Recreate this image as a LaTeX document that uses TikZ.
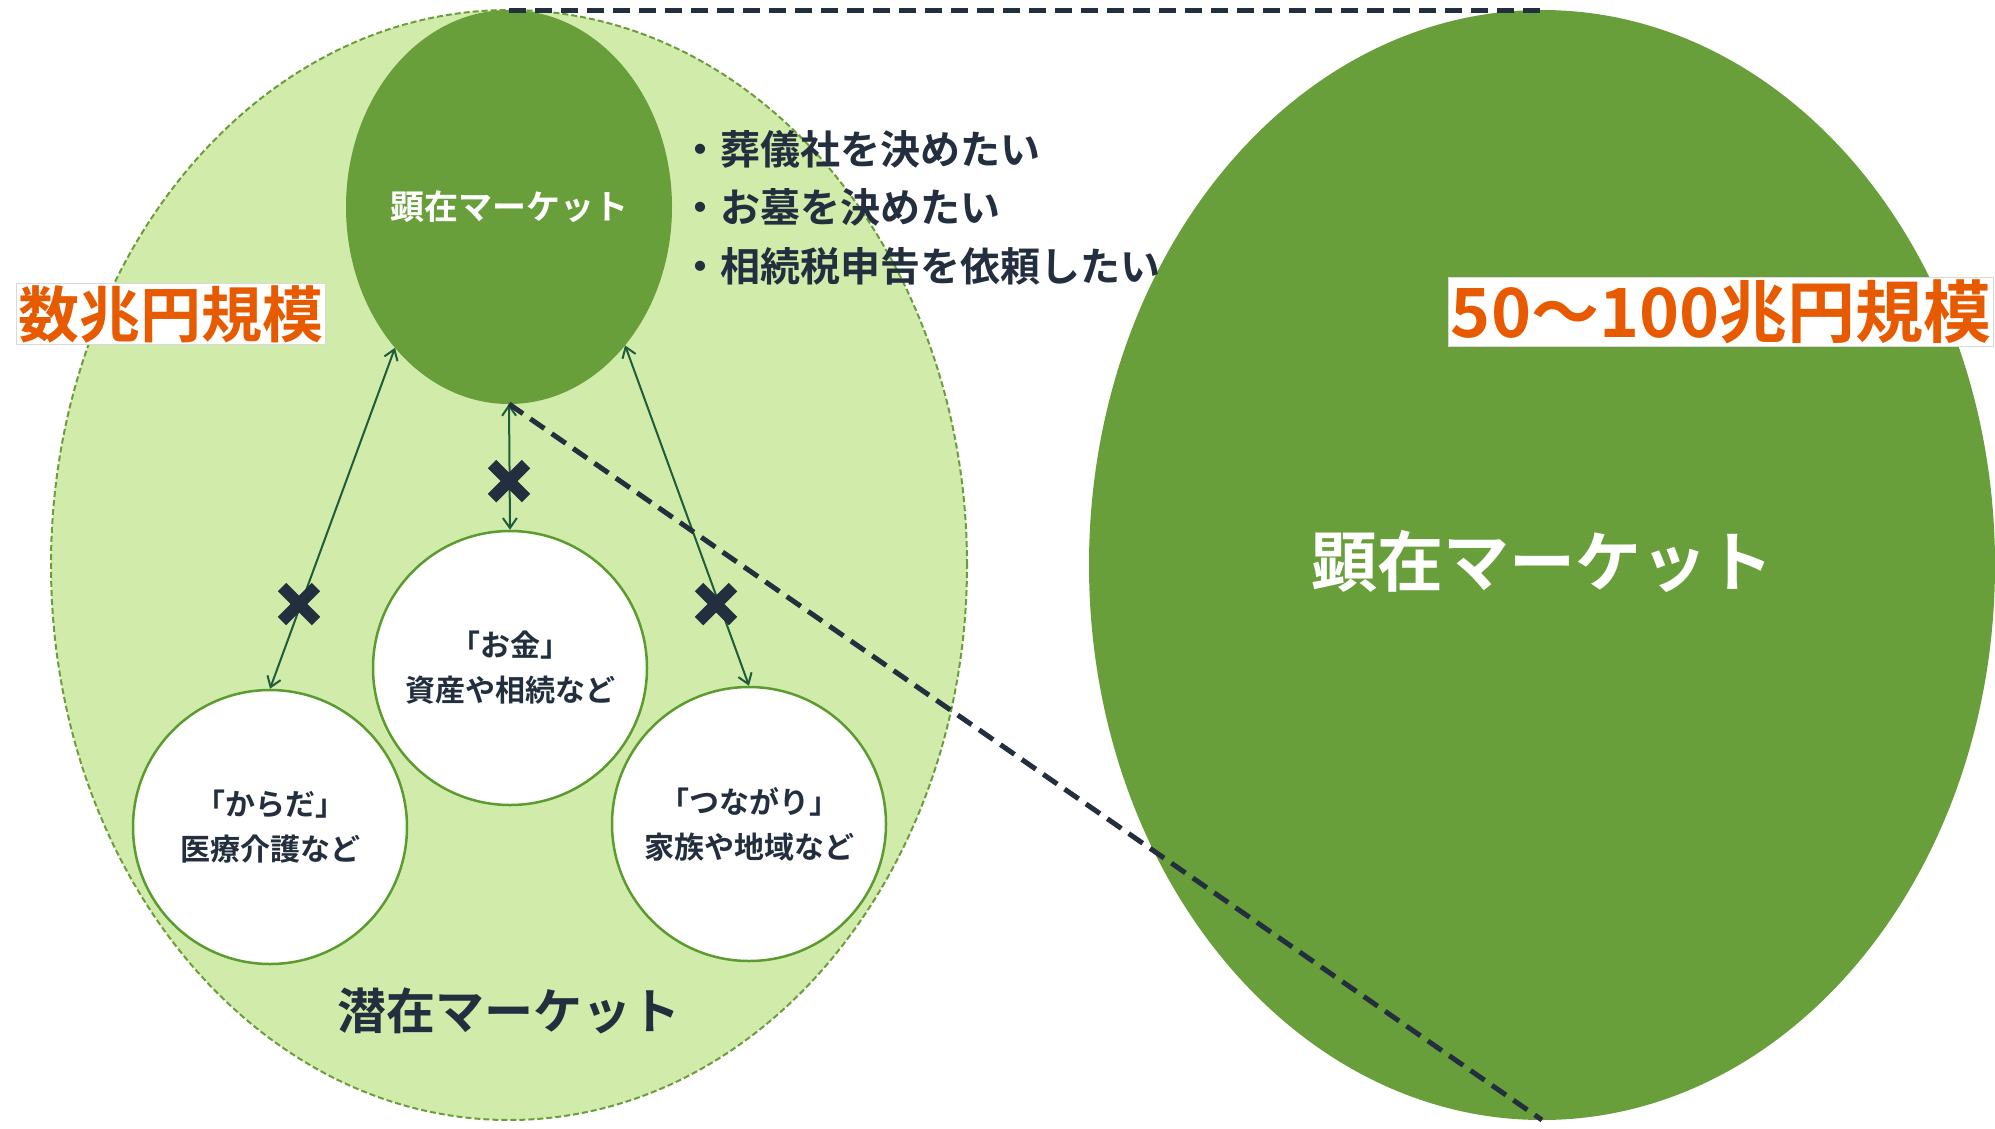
\documentclass[tikz,border=0pt]{standalone}
\usepackage{fontspec}
\setmainfont{Noto Sans CJK JP}[BoldFont={Noto Sans CJK JP Bold}]
\usetikzlibrary{shapes.geometric,arrows.meta}
\definecolor{darkg}{HTML}{689F3A}
\definecolor{lightg}{HTML}{D1ECAA}
\definecolor{circg}{HTML}{5B9B2F}
\definecolor{outerg}{HTML}{6A9E3B}
\definecolor{navy}{HTML}{232F3E}
\definecolor{orng}{HTML}{E85A00}
\definecolor{arrg}{HTML}{1E5C3A}
\begin{document}
\begin{tikzpicture}[x=1pt,y=-1pt,
  blob/.style={ellipse, inner sep=0pt, outer sep=0pt},
  smallcirc/.style={circle, fill=white, draw=circg, line width=2.5pt, minimum size=274pt, inner sep=0pt},
  circtext/.style={align=center, text=navy, font=\bfseries\fontsize{30}{45}\selectfont},
  bullet/.style={anchor=west, text=navy, inner sep=0pt, font=\bfseries\fontsize{40}{48}\selectfont},
  sizelabel/.style={fill=white, draw=gray!30, line width=1pt, inner sep=2pt, text=orng},
  arr/.style={draw=arrg, line width=2pt, {Straight Barb[length=10pt,width=14pt]}-{Straight Barb[length=10pt,width=14pt]}},
  xm/.style={draw=navy, line width=12pt},
  dline/.style={draw=navy, line width=5pt, dash pattern=on 17pt off 9pt}]
\useasboundingbox (0,0) rectangle (1995,1128);

% outer latent market
\node[blob, fill=lightg, draw=outerg, line width=2pt, dash pattern=on 6pt off 3pt,
      minimum width=916pt, minimum height=1110pt] (outer) at (509,565) {};
% big right ellipse
\node[blob, fill=darkg, minimum width=906pt, minimum height=1110pt] (big) at (1542,565) {};
\node[text=white, font=\bfseries\fontsize{66}{66}\selectfont] (bigt) at (1542,562) {顕在マーケット};

% top apparent market
\node[blob, fill=darkg, minimum width=326pt, minimum height=394pt] (top) at (509,207) {};
\node[text=white, font=\bfseries\fontsize{34}{40}\selectfont] (topt) at (509,207) {顕在マーケット};

% three circles
\node[smallcirc] (mid) at (510,668) {};
\node[smallcirc] (left) at (270,827) {};
\node[smallcirc] (right) at (749,824) {};
\node[circtext] (midt) at (mid) {「お金」\\資産や相続など};
\node[circtext] (leftt) at (left) {「からだ」\\医療介護など};
\node[circtext] (rightt) at (right) {「つながり」\\家族や地域など};

\node[text=navy, font=\bfseries\fontsize{49}{49}\selectfont] (latent) at (509,1011) {潜在マーケット};

% arrows
\draw[arr] (top.-129.6) -- (left.north);
\draw[arr] (top.south) -- (mid.north);
\draw[arr] (top.-50.6) -- (right.north);

% x marks
\coordinate (x1) at (509,481);
\coordinate (x2) at (299,604);
\coordinate (x3) at (716,604);
\foreach \c in {x1,x2,x3}{
  \draw[xm] ([shift={(-17,-17)}]\c) -- ([shift={(17,17)}]\c);
  \draw[xm] ([shift={(-17,17)}]\c) -- ([shift={(17,-17)}]\c);
}

% bullets
\node[bullet] (b1) at (680,149) {・葬儀社を決めたい};
\node[bullet] (b2) at (680,207) {・お墓を決めたい};
\node[bullet] (b3) at (680,266) {・相続税申告を依頼したい};

% size labels
\node[sizelabel, font=\bfseries\fontsize{61}{61}\selectfont] (lab1) at (171,314) {数兆円規模};
\node[sizelabel, anchor=east, font=\bfseries\fontsize{68}{68}\selectfont] (lab2) at (1994,312) {50〜100兆円規模};

% zoom lines
\draw[dline] (top.north) -- (big.north);
\draw[dline] (top.south) -- (big.south);
\end{tikzpicture}
\end{document}
